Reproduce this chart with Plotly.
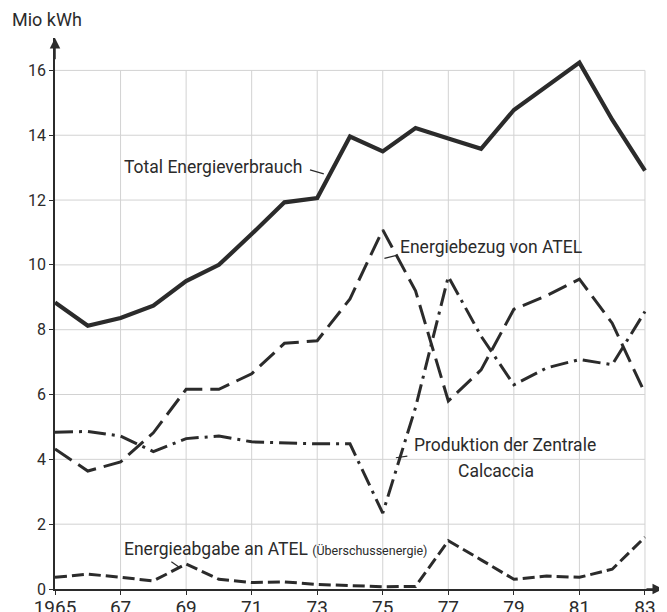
import plotly.graph_objects as go

years = list(range(1965, 1984))
total = [8.84, 8.12, 8.36, 8.74, 9.5, 10.0, 10.95, 11.93, 12.06, 13.96, 13.5, 14.22, 13.9, 13.58, 14.78, 15.5, 16.24, 14.48, 12.91]
bezug = [4.32, 3.64, 3.92, 4.82, 6.16, 6.16, 6.64, 7.58, 7.66, 8.95, 11.08, 9.2, 5.8, 6.76, 8.63, 9.05, 9.56, 8.2, 6.04]
produktion = [4.84, 4.86, 4.72, 4.24, 4.64, 4.72, 4.54, 4.5, 4.48, 4.48, 2.34, 5.6, 9.64, 7.8, 6.3, 6.82, 7.08, 6.92, 8.56]
abgabe = [0.36, 0.46, 0.36, 0.25, 0.77, 0.3, 0.2, 0.22, 0.14, 0.1, 0.07, 0.08, 1.49, 0.9, 0.3, 0.4, 0.36, 0.61, 1.6]

xtick_vals = list(range(1965, 1984, 2))
xtick_text = ["1965", "67", "69", "71", "73", "75", "77", "79", "81", "83"]
ytick_vals = list(range(0, 17, 2))

INK = "#2b2b2b"
FONT = "Roboto"

fig = go.Figure()

fig.add_trace(go.Scatter(x=years, y=total, mode="lines",
                         line=dict(color=INK, width=4.2)))
fig.add_trace(go.Scatter(x=years, y=bezug, mode="lines",
                         line=dict(color=INK, width=3, dash="20px,8px")))
fig.add_trace(go.Scatter(x=years, y=produktion, mode="lines",
                         line=dict(color=INK, width=3, dash="18px,6px,3px,6px")))
fig.add_trace(go.Scatter(x=years, y=abgabe, mode="lines",
                         line=dict(color=INK, width=3, dash="12px,5px")))

shapes = []
for xv in xtick_vals[1:]:
    shapes.append(dict(type="line", xref="x", yref="y", x0=xv, x1=xv, y0=0, y1=16,
                       line=dict(color="#d2d2d2", width=1), layer="below"))
for yv in ytick_vals[1:]:
    shapes.append(dict(type="line", xref="x", yref="y", x0=1965, x1=1983, y0=yv, y1=yv,
                       line=dict(color="#d2d2d2", width=1), layer="below"))

# leader lines for labels
leaders = [
    (1972.78, 12.93, 1973.2, 12.81),
    (1975.05, 10.2, 1975.45, 10.3),
    (1975.4, 4.05, 1975.75, 4.1),
    (1968.55, 0.84, 1968.8, 0.66),
]
for x0, y0, x1, y1 in leaders:
    shapes.append(dict(type="line", xref="x", yref="y", x0=x0, y0=y0, x1=x1, y1=y1,
                       line=dict(color=INK, width=1.2)))

annotations = [
    dict(x=1969.82, y=13.02, text="Total Energieverbrauch", showarrow=False,
         font=dict(family=FONT, size=17.5, color=INK)),
    dict(x=1978.29, y=10.56, text="Energiebezug von ATEL", showarrow=False,
         font=dict(family=FONT, size=17.5, color=INK)),
    dict(x=1978.73, y=4.44, text="Produktion der Zentrale", showarrow=False,
         font=dict(family=FONT, size=17.5, color=INK)),
    dict(x=1978.45, y=3.65, text="Calcaccia", showarrow=False,
         font=dict(family=FONT, size=17.5, color=INK)),
    dict(x=1967.05, y=1.23, xanchor="left",
         text="Energieabgabe an ATEL <span style='font-size:12.5px'>(Überschussenergie)</span>",
         showarrow=False, font=dict(family=FONT, size=17.5, color=INK)),
    dict(xref="paper", yref="paper", x=-0.074, y=1.0327, xanchor="left", yanchor="middle",
         text="Mio kWh", showarrow=False, font=dict(family=FONT, size=18, color=INK)),
    # axis arrows
    dict(x=1965, y=17.0, ax=1965, ay=16.3, xref="x", yref="y", axref="x", ayref="y",
         text="", showarrow=True, arrowhead=2, arrowsize=1.4, arrowwidth=1.5, arrowcolor=INK),
    dict(x=1983.55, y=0, ax=1983.0, ay=0, xref="x", yref="y", axref="x", ayref="y",
         text="", showarrow=True, arrowhead=2, arrowsize=1.4, arrowwidth=1.5, arrowcolor=INK),
]

fig.update_layout(
    width=659, height=604,
    margin=dict(l=47, r=4, t=30, b=23, autoexpand=False),
    paper_bgcolor="white", plot_bgcolor="white",
    showlegend=False,
    shapes=shapes,
    annotations=annotations,
    xaxis=dict(range=[1965, 1983.55], tickvals=xtick_vals, ticktext=xtick_text,
               showgrid=False, zeroline=False, showline=True, linecolor=INK, linewidth=1.5,
               ticks="outside", ticklen=4, tickcolor=INK, automargin=False,
               ticklabelstandoff=-4,
               tickfont=dict(family=FONT, size=19, color=INK)),
    yaxis=dict(range=[0, 17.0], tickvals=ytick_vals,
               showgrid=False, zeroline=False, showline=True, linecolor=INK, linewidth=1.5,
               ticks="outside", ticklen=4, tickcolor=INK, automargin=False,
               tickfont=dict(family=FONT, size=16, color=INK)),
)

fig.write_html("out.html")
